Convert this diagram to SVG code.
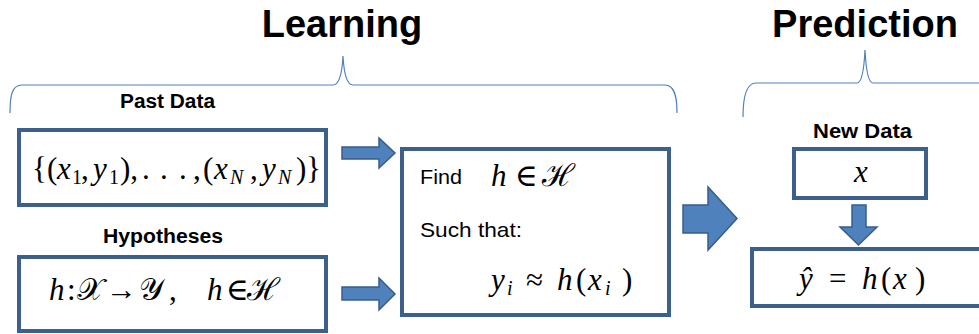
<svg xmlns="http://www.w3.org/2000/svg" width="979" height="334" viewBox="0 0 979 334">
<defs>
<style>
.title{font-family:"Liberation Sans",Arial,sans-serif;font-weight:bold;font-size:38px;fill:#000;text-anchor:middle}
.lbl{font-family:"Liberation Sans",Arial,sans-serif;font-weight:bold;font-size:20px;fill:#000}
.txt{font-family:"Liberation Sans",Arial,sans-serif;font-size:21px;fill:#000}
.math{font-family:"Liberation Serif","DejaVu Serif",serif;font-size:31px;fill:#000}
.it{font-style:italic}
.sub{font-size:20px}
.box{fill:#fff;stroke:#3C5F8B;stroke-width:4}
.arr{fill:#4F81BD;stroke:#385D8A;stroke-width:1.5;stroke-linejoin:miter}
.brace{fill:none;stroke:#4F81BD;stroke-width:1.2}
</style>
</defs>
<rect width="979" height="334" fill="#fff"/>
<g id="titles">
<text class="title" x="342" y="37">Learning</text>
<text class="title" x="865" y="37">Prediction</text>
</g>
<g id="braces">
<path class="brace" d="M10,113 C10,95 12,85 22,85 L333,85 C339,85 342,75 343,56 C344,75 347,85 353,85 L665,85 C674,85 677,95 677,113"/>
<path class="brace" d="M743,117 C743,97 746,83 756,83 L857,83 C862,83 864,70 865,50 C866,70 868,83 873,83 L979,83"/>
</g>
<g id="past-data">
<text class="lbl" x="120" y="108" textLength="95" lengthAdjust="spacingAndGlyphs">Past Data</text>
<rect class="box" x="19" y="130" width="307" height="75"/>
<text class="math" y="179"><tspan x="32">{</tspan><tspan x="47">(</tspan><tspan class="it" x="57">x</tspan><tspan class="sub" x="72" dy="5">1</tspan><tspan x="81" dy="-5">,</tspan><tspan class="it" x="93">y</tspan><tspan class="sub" x="109" dy="5">1</tspan><tspan x="120" dy="-5">),</tspan><tspan x="142">.</tspan><tspan x="160">.</tspan><tspan x="179">.</tspan><tspan x="193">,</tspan><tspan x="203">(</tspan><tspan class="it" x="214">x</tspan><tspan class="it sub" x="230" dy="5">N</tspan><tspan x="250" dy="-5">,</tspan><tspan class="it" x="262">y</tspan><tspan class="it sub" x="278" dy="5">N</tspan><tspan x="296" dy="-5">)</tspan><tspan x="306">}</tspan></text>
</g>
<g id="hypotheses">
<text class="lbl" x="103" y="243" textLength="120" lengthAdjust="spacingAndGlyphs">Hypotheses</text>
<rect class="box" x="19" y="257" width="307" height="74"/>
<text class="math" y="300"><tspan class="it" x="49">h</tspan><tspan x="67">:</tspan><tspan x="77">𝒳</tspan><tspan x="106">→</tspan><tspan x="139">𝒴</tspan><tspan x="169">,</tspan><tspan class="it" x="207">h</tspan><tspan x="226">∈</tspan><tspan x="247">ℋ</tspan></text>
</g>
<g id="find">
<rect class="box" x="402" y="149" width="267" height="166"/>
<text class="txt" x="420" y="184" textLength="42" lengthAdjust="spacingAndGlyphs">Find</text>
<text class="math" y="186"><tspan class="it" x="491">h</tspan><tspan x="515">∈</tspan><tspan x="542">ℋ</tspan></text>
<text class="txt" x="420" y="237" textLength="102" lengthAdjust="spacingAndGlyphs">Such that:</text>
<text class="math" y="290" font-size="32"><tspan class="it" x="491">y</tspan><tspan class="it sub" x="507" dy="5">i</tspan><tspan x="526" dy="-5">≈</tspan><tspan class="it" x="557">h</tspan><tspan x="576">(</tspan><tspan class="it" x="588">x</tspan><tspan class="it sub" x="605" dy="5">i</tspan><tspan x="622" dy="-5">)</tspan></text>
</g>
<g id="new-data">
<text class="lbl" x="813" y="138" textLength="99" lengthAdjust="spacingAndGlyphs">New Data</text>
<rect class="box" x="794" y="149" width="132" height="49"/>
<text class="math it" x="861" y="182" text-anchor="middle" font-size="32">x</text>
</g>
<g id="result">
<rect class="box" x="752" y="249" width="240" height="57"/>
<text class="math" y="289" font-size="32"><tspan class="it" x="799">ŷ</tspan><tspan x="829">=</tspan><tspan class="it" x="862">h</tspan><tspan x="881">(</tspan><tspan class="it" x="893">x</tspan><tspan x="915">)</tspan></text>
</g>
<g id="connectors">
<path class="arr" d="M342,147 L379,147 L379,138 L395,153 L379,168 L379,159 L342,159 Z"/>
<path class="arr" d="M342,287 L379,287 L379,278 L395,294 L379,310 L379,300 L342,300 Z"/>
<path class="arr" d="M683,205 L708,205 L708,187 L737,218.5 L708,250 L708,233 L683,233 Z"/>
<path class="arr" d="M852,205 L866,205 L866,227 L877,227 L858.5,245 L840,227 L852,227 Z"/>
</g>
</svg>
